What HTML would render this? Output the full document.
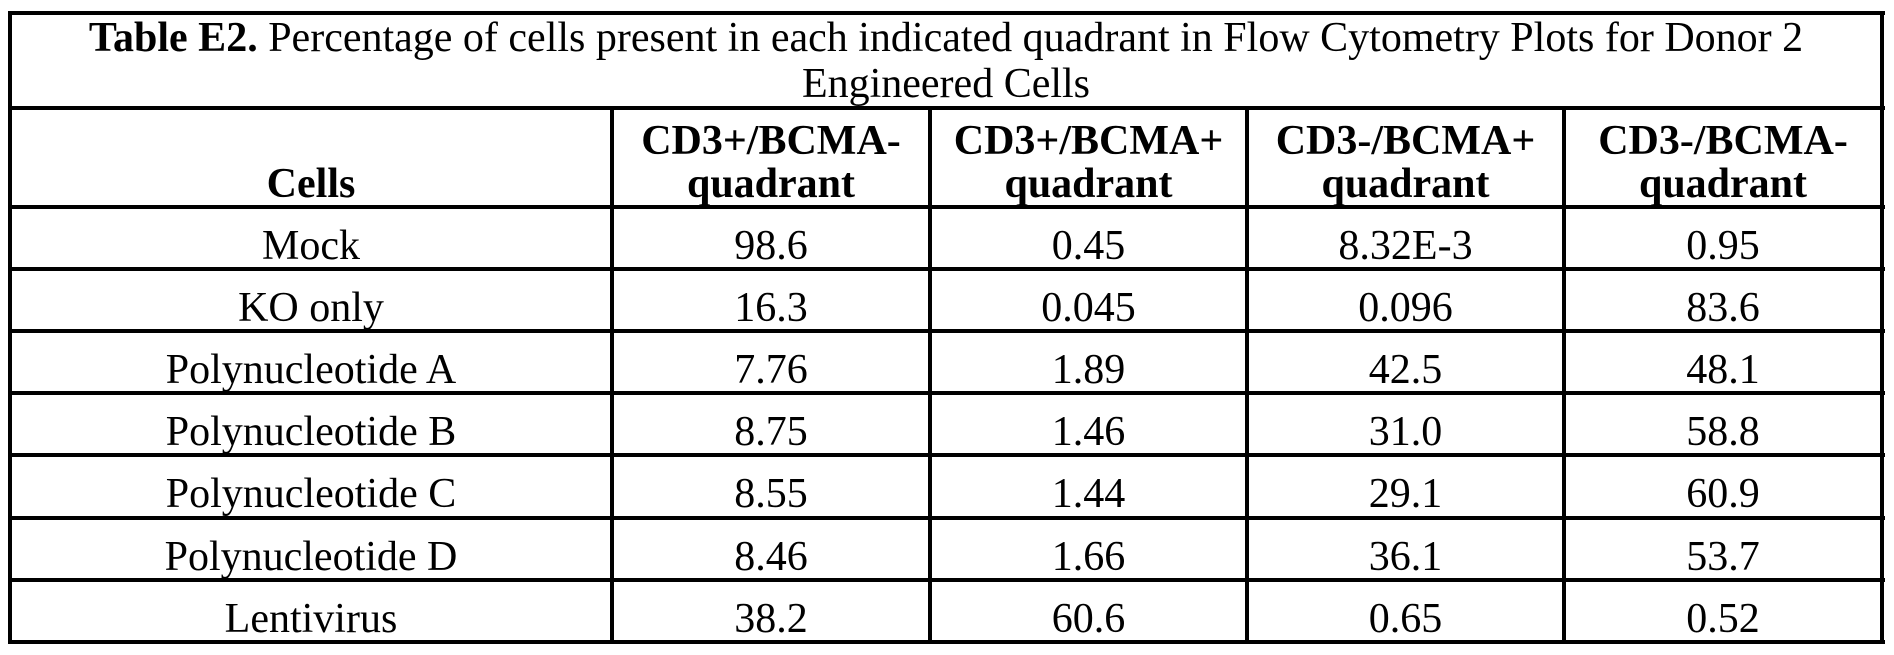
<!DOCTYPE html>
<html><head><meta charset="utf-8"><style>
body{margin:0;background:#fff;width:1894px;height:655px;position:relative;overflow:hidden;font-family:"Liberation Serif","Times New Roman",serif;color:#000}
.h{position:absolute;height:4px;background:#000}
.v{position:absolute;width:4px;background:#000}
.t{position:absolute;text-align:center;font-size:42px;line-height:43px;white-space:nowrap}
b{font-weight:bold}
</style></head><body>
<div class="h" style="left:8px;width:1877px;top:11px"></div>
<div class="h" style="left:8px;width:1877px;top:106px"></div>
<div class="h" style="left:8px;width:1877px;top:205px"></div>
<div class="h" style="left:8px;width:1877px;top:267px"></div>
<div class="h" style="left:8px;width:1877px;top:329px"></div>
<div class="h" style="left:8px;width:1877px;top:391px"></div>
<div class="h" style="left:8px;width:1877px;top:453px"></div>
<div class="h" style="left:8px;width:1877px;top:516px"></div>
<div class="h" style="left:8px;width:1877px;top:578px"></div>
<div class="h" style="left:8px;width:1877px;top:640px"></div>
<div class="v" style="left:8px;top:11px;height:633px"></div>
<div class="v" style="left:1880px;top:11px;height:633px"></div>
<div class="v" style="left:610px;top:106px;height:538px"></div>
<div class="v" style="left:928px;top:106px;height:538px"></div>
<div class="v" style="left:1245px;top:106px;height:538px"></div>
<div class="v" style="left:1562px;top:106px;height:538px"></div>

<div class="t" style="left:12px;width:1868px;top:17px"><b>Table E2.</b> Percentage of cells present in each indicated quadrant in Flow Cytometry Plots for Donor 2</div>
<div class="t" style="left:12px;width:1868px;top:63px">Engineered Cells</div>

<div class="t" style="left:12px;width:598px;top:163px"><b>Cells</b></div>
<div class="t" style="left:614px;width:314px;top:120px"><b>CD3+/BCMA-<br>quadrant</b></div>
<div class="t" style="left:932px;width:313px;top:120px"><b>CD3+/BCMA+<br>quadrant</b></div>
<div class="t" style="left:1249px;width:313px;top:120px"><b>CD3-/BCMA+<br>quadrant</b></div>
<div class="t" style="left:1566px;width:314px;top:120px"><b>CD3-/BCMA-<br>quadrant</b></div>

<div id="rows"></div>
<script>
var d=[["Mock","98.6","0.45","8.32E-3","0.95"],["KO only","16.3","0.045","0.096","83.6"],["Polynucleotide A","7.76","1.89","42.5","48.1"],["Polynucleotide B","8.75","1.46","31.0","58.8"],["Polynucleotide C","8.55","1.44","29.1","60.9"],["Polynucleotide D","8.46","1.66","36.1","53.7"],["Lentivirus","38.2","60.6","0.65","0.52"]];
var xs=[[12,598],[614,314],[932,313],[1249,313],[1566,314]];
var tops=[209,271,333,395,457,520,582];
var h="";
d.forEach(function(r,i){r.forEach(function(c,j){h+='<div class="t" style="left:'+xs[j][0]+'px;width:'+xs[j][1]+'px;top:'+(tops[i]+16)+'px">'+c+'</div>';});});
document.getElementById("rows").innerHTML=h;
</script>
</body></html>
